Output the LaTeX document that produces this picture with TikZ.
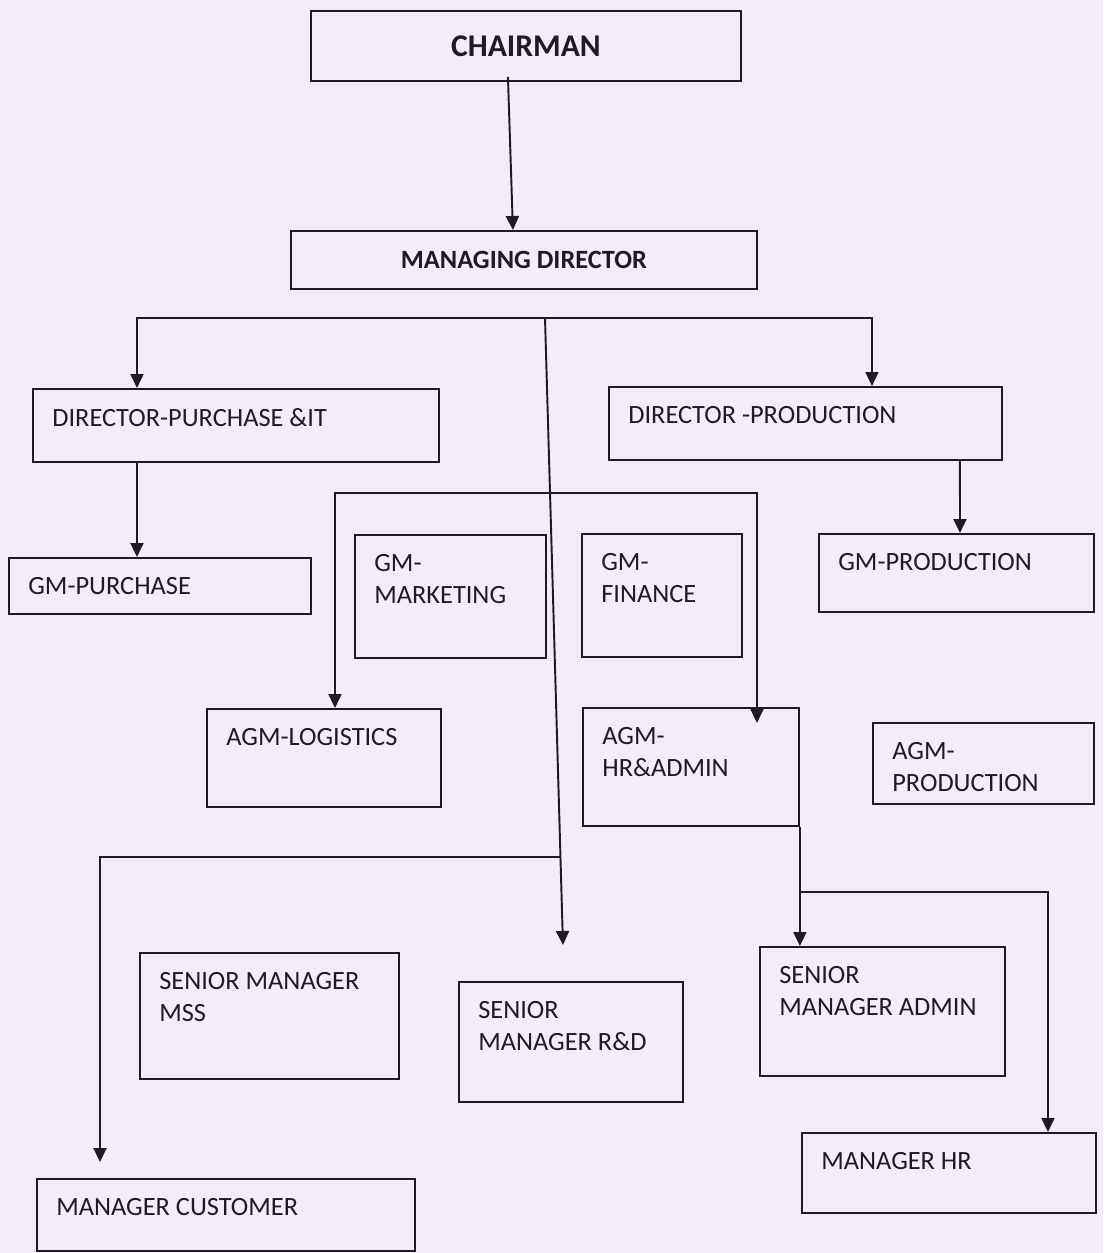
\documentclass[tikz,border=0pt]{standalone}
\usepackage{fontspec}
\setmainfont{Carlito}
\usetikzlibrary{arrows.meta, positioning, calc}
\definecolor{paper}{RGB}{244,236,249}
\definecolor{ink}{RGB}{30,28,34}

\begin{document}
\begin{tikzpicture}
   [
      x=0.02cm, y=-0.02cm,
      unit/.style={draw=ink, line width=1.1pt, anchor=north west, inner sep=0pt},
      head text/.style={text=ink, font=\bfseries},
      box text/.style={anchor=north west, xshift=0.4cm, yshift=-0.4cm, inner sep=0pt,
                       align=left, text=ink, font=\fontsize{15}{18.2}\selectfont},
      link/.style={draw=ink, line width=1.1pt, -{Triangle[length=0.28cm, width=0.26cm]}},
      bus/.style={draw=ink, line width=1.1pt}
   ]

   % sheet
   \fill[paper] (0,0) rectangle (1103,1253);

   % =======================================================
   % Top: Chairman and Managing Director
   % =======================================================

   \node[unit, head text, minimum width=8.6cm, minimum height=1.4cm,
         font=\fontsize{18}{22}\selectfont\bfseries] (chair) at (310,10) {CHAIRMAN};
   \node[unit, head text, minimum width=9.32cm, minimum height=1.16cm,
         font=\fontsize{15}{18}\selectfont\bfseries] (md) at (290,230) {MANAGING DIRECTOR};

   \draw[link] ([xshift=-0.36cm, yshift=0.1cm]chair.south) -- ([xshift=-0.22cm]md.north);

   % =======================================================
   % Directors and general managers
   % =======================================================

   \node[unit, minimum width=8.12cm, minimum height=1.46cm,
         label={[box text]north west:DIRECTOR-PURCHASE \&IT}] (dir_pur) at (32,388) {};
   \node[unit, minimum width=7.86cm, minimum height=1.46cm,
         label={[box text]north west:DIRECTOR -PRODUCTION}] (dir_prod) at (608,386) {};

   \node[unit, minimum width=6.04cm, minimum height=1.12cm,
         label={[box text]north west:GM-PURCHASE}] (gm_pur) at (8,557) {};
   \node[unit, minimum width=3.82cm, minimum height=2.46cm,
         label={[box text]north west:GM-\\MARKETING}] (gm_mkt) at (354,534) {};
   \node[unit, minimum width=3.2cm, minimum height=2.46cm,
         label={[box text]north west:GM-\\FINANCE}] (gm_fin) at (581,533) {};
   \node[unit, minimum width=5.5cm, minimum height=1.56cm,
         label={[box text]north west:GM-PRODUCTION}] (gm_prod) at (818,533) {};

   % =======================================================
   % Assistant general managers
   % =======================================================

   \node[unit, minimum width=4.68cm, minimum height=1.96cm,
         label={[box text]north west:AGM-LOGISTICS}] (agm_log) at (206,708) {};
   \node[unit, minimum width=4.32cm, minimum height=2.36cm,
         label={[box text]north west:AGM-\\HR\&ADMIN}] (agm_hr) at (582,707) {};
   \node[unit, minimum width=4.42cm, minimum height=1.62cm,
         label={[box text]north west:AGM-\\PRODUCTION}] (agm_prod) at (872,722) {};

   % =======================================================
   % Senior managers and managers
   % =======================================================

   \node[unit, minimum width=5.18cm, minimum height=2.52cm,
         label={[box text]north west:SENIOR MANAGER\\MSS}] (sm_mss) at (139,952) {};
   \node[unit, minimum width=4.48cm, minimum height=2.4cm,
         label={[box text]north west:SENIOR\\MANAGER R\&D}] (sm_rd) at (458,981) {};
   \node[unit, minimum width=4.9cm, minimum height=2.58cm,
         label={[box text]north west:SENIOR\\MANAGER ADMIN}] (sm_adm) at (759,946) {};
   \node[unit, minimum width=5.88cm, minimum height=1.6cm,
         label={[box text]north west:MANAGER HR}] (mgr_hr) at (801,1132) {};
   \node[unit, minimum width=7.56cm, minimum height=1.44cm,
         label={[box text]north west:MANAGER CUSTOMER}] (mgr_cust) at (36,1178) {};

   % =======================================================
   % Connectors
   % =======================================================

   % bus under the managing director
   \coordinate (md_bus) at (545,318);
   \coordinate (rd_tip) at ([xshift=2.1cm, yshift=0.72cm]sm_rd.north west);
   \draw[link] (md_bus) -| ([xshift=2.1cm]dir_pur.north west);
   \draw[link] (md_bus) -| ([xshift=5.28cm]dir_prod.north west);
   \draw[link] (md_bus) -- (rd_tip);

   % directors to general managers
   \draw[link] ([xshift=2.1cm]dir_pur.south west) -- ([xshift=2.58cm]gm_pur.north west);
   \draw[link] ([xshift=7.04cm]dir_prod.south west) -- ([xshift=2.84cm]gm_prod.north west);

   % branch to logistics and hr
   \coordinate (gm_bus) at ($(md_bus)!0.279!(rd_tip)$);
   \draw[link] (gm_bus) -| ([xshift=2.58cm]agm_log.north west);
   \draw[link] (gm_bus) -| ([xshift=3.5cm, yshift=-0.32cm]agm_hr.north west);

   % branch to customer manager
   \coordinate (cust_bus) at ($(md_bus)!0.86!(rd_tip)$);
   \draw[link] (cust_bus) -| ([xshift=1.28cm, yshift=0.32cm]mgr_cust.north west);

   % hr & admin to its managers
   \coordinate (hr_bus) at ($(agm_hr.south east)+(0,65)$);
   \draw[link] (agm_hr.south east) -- (agm_hr.south east |- sm_adm.north);
   \draw[link] (hr_bus) -| ([xshift=4.94cm]mgr_hr.north west);

\end{tikzpicture}
\end{document}
